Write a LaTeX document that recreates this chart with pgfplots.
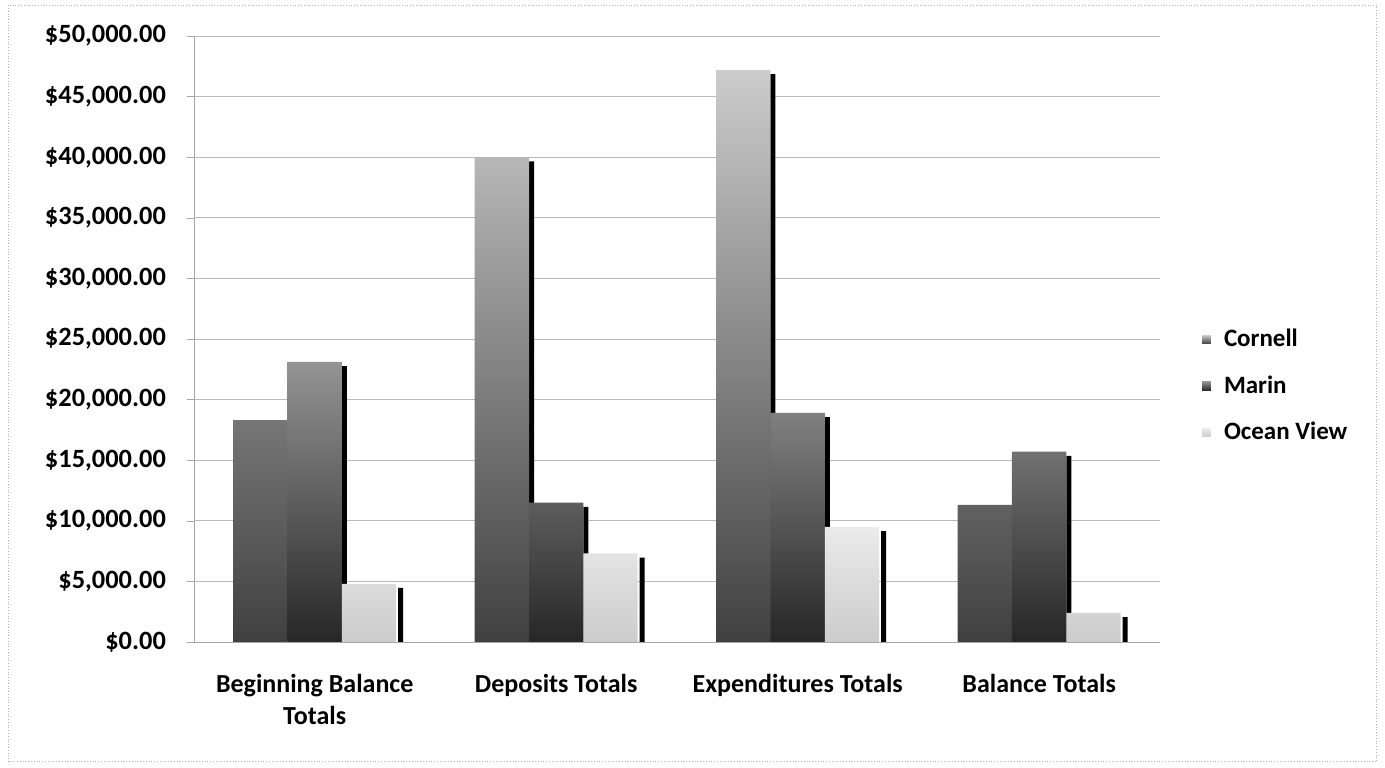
\documentclass[border=0pt]{standalone}
\usepackage{fontspec}
\setmainfont{Carlito}
\usepackage{pgfplots}
\usepackage{pgfplotstable}
\pgfplotsset{compat=1.18}

% values; *s columns = top of the dark 3D side face
\pgfplotstableread{
x cornell marin ocean cornells marins oceans
0 18300 23100 4800 17950 22750 4450
1 40000 11500 7300 39650 11150 6950
2 47200 18900 9500 46850 18550 9150
3 11300 15700 2400 10950 15350 2050
}\totals

\begin{document}
\begin{tikzpicture}
\begin{axis}[
    scale only axis,
    width=483pt, height=303pt,
    xmin=-0.5, xmax=3.5,
    ymin=0, ymax=50000,
    scaled y ticks=false,
    axis x line*=bottom,
    axis y line*=left,
    axis line style={gray!70},
    xtick={0,1,2,3},
    xticklabels={Beginning Balance\\Totals, Deposits Totals, Expenditures Totals, Balance Totals},
    xticklabel style={align=center, font=\bfseries\fontsize{13}{16}\selectfont, yshift=-9pt},
    x tick style={draw=none},
    ytick={0,5000,...,50000},
    yticklabels={{\$0.00},{\$5,000.00},{\$10,000.00},{\$15,000.00},{\$20,000.00},{\$25,000.00},{\$30,000.00},{\$35,000.00},{\$40,000.00},{\$45,000.00},{\$50,000.00}},
    yticklabel style={font=\bfseries\fontsize{13.2}{15}\selectfont, xshift=-7pt},
    tick align=outside,
    major tick length=3.5pt,
    y tick style={gray!70},
    ymajorgrids,
    grid style={gray!55, thin},
    ybar,
    legend cell align=left,
    legend style={draw=none, fill=none, at={(rel axis cs:1.037,0.4224)}, anchor=west,
        font=\bfseries\fontsize{12.5}{14}\selectfont, row sep=9pt,
        nodes={inner xsep=2pt}},
    legend image code/.code={
        \path (0pt,0pt) -- (9pt,0pt);
        \fill[#1] (0pt,-2.2pt) rectangle (4.4pt,2.2pt);
    },
]

% Cornell
\addplot[ybar, bar width=0.0207, bar shift=-0.1021, fill=black, draw=none, forget plot]
    table[x=x, y=cornells]{\totals};
\addplot[ybar, bar width=0.225, bar shift=-0.225, draw=none, top color=black!20, bottom color=black!75]
    table[x=x, y=cornell]{\totals};
\addlegendentry{Cornell}

% Marin
\addplot[ybar, bar width=0.0207, bar shift=0.1229, fill=black, draw=none, forget plot]
    table[x=x, y=marins]{\totals};
\addplot[ybar, bar width=0.225, bar shift=0, draw=none, top color=black!42, bottom color=black!85]
    table[x=x, y=marin]{\totals};
\addlegendentry{Marin}

% Ocean View
\addplot[ybar, bar width=0.0207, bar shift=0.356, fill=black, draw=none, forget plot]
    table[x=x, y=oceans]{\totals};
\addplot[ybar, bar width=0.225, bar shift=0.225, draw=none, top color=black!8, bottom color=black!20]
    table[x=x, y=ocean]{\totals};
\addlegendentry{Ocean View}

\coordinate (f1) at (rel axis cs:-0.1925,-0.198);
\coordinate (f2) at (rel axis cs:1.2246,1.0512);
\coordinate (b1) at (rel axis cs:-0.2008,-0.2079);
\coordinate (b2) at (rel axis cs:1.2331,1.0594);
\end{axis}
\draw[gray!60, densely dotted] (f1) rectangle (f2);
\pgfresetboundingbox
\path[use as bounding box] (b1) rectangle (b2);
\end{tikzpicture}
\end{document}
